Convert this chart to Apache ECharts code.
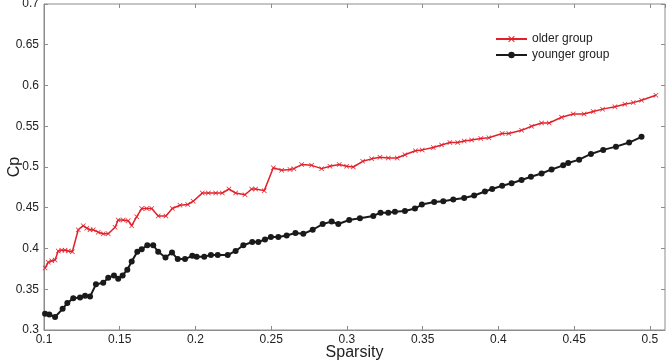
<!DOCTYPE html>
<html>
<head>
<meta charset="utf-8">
<script src="https://cdn.jsdelivr.net/npm/echarts@6/dist/echarts.min.js"></script>
<style>
  html, body { margin: 0; padding: 0; background: #fff; }
  #main { width: 666px; height: 361px; }
</style>
</head>
<body>
<div id="main"></div>
<script>
// sparsity values (x) and Cp values
var olderX = [0.1007, 0.1028, 0.1051, 0.1073, 0.1094, 0.1117, 0.1139, 0.1160, 0.1187, 0.1226,
    0.1259, 0.1282, 0.1304, 0.1325, 0.1358, 0.1391, 0.1424, 0.1469, 0.1490, 0.1523,
    0.1556, 0.1579, 0.1612, 0.1645, 0.1678, 0.1711, 0.1754, 0.1805, 0.1847, 0.1898,
    0.1949, 0.1985, 0.2045, 0.2085, 0.2133, 0.2177, 0.2221, 0.2265, 0.2327, 0.2371,
    0.2397, 0.2454, 0.2514, 0.2569, 0.2624, 0.2650, 0.2701, 0.2767, 0.2833, 0.2888,
    0.2949, 0.2998, 0.3042, 0.3104, 0.3163, 0.3218, 0.3273, 0.3332, 0.3383, 0.3452,
    0.3497, 0.3570, 0.3625, 0.3680, 0.3731, 0.3774, 0.3823, 0.3884, 0.3937, 0.4025,
    0.4069, 0.4153, 0.4219, 0.4285, 0.4335, 0.4417, 0.4494, 0.4566, 0.4626, 0.4688,
    0.4769, 0.4835, 0.4890, 0.4945, 0.5040];
var olderCp = [0.376, 0.383, 0.385, 0.386, 0.397, 0.398, 0.398, 0.397, 0.396, 0.423,
    0.428, 0.425, 0.423, 0.423, 0.420, 0.418, 0.418, 0.426, 0.435, 0.435,
    0.434, 0.428, 0.439, 0.449, 0.449, 0.449, 0.440, 0.440, 0.449, 0.453,
    0.454, 0.458, 0.468, 0.468, 0.468, 0.468, 0.473, 0.468, 0.466, 0.473,
    0.473, 0.471, 0.499, 0.496, 0.497, 0.498, 0.503, 0.502, 0.498, 0.501,
    0.503, 0.501, 0.500, 0.507, 0.510, 0.512, 0.511, 0.511, 0.515, 0.520,
    0.521, 0.524, 0.527, 0.530, 0.530, 0.532, 0.533, 0.535, 0.536, 0.541,
    0.541, 0.545, 0.550, 0.554, 0.554, 0.561, 0.565, 0.565, 0.568, 0.571,
    0.574, 0.577, 0.579, 0.582, 0.588];

var youngerX = [0.1007, 0.1035, 0.1073, 0.1123, 0.1154, 0.1193, 0.1238, 0.1271, 0.1304, 0.1343,
    0.1391, 0.1424, 0.1462, 0.1490, 0.1519, 0.1550, 0.1579, 0.1616, 0.1645, 0.1682,
    0.1721, 0.1754, 0.1802, 0.1845, 0.1883, 0.1931, 0.1979, 0.2008, 0.2058, 0.2102,
    0.2147, 0.2213, 0.2265, 0.2316, 0.2375, 0.2415, 0.2459, 0.2498, 0.2547, 0.2602,
    0.2660, 0.2712, 0.2774, 0.2840, 0.2899, 0.2943, 0.3015, 0.3086, 0.3174, 0.3222,
    0.3273, 0.3317, 0.3383, 0.3449, 0.3495, 0.3576, 0.3636, 0.3702, 0.3774, 0.3840,
    0.3911, 0.3959, 0.4025, 0.4087, 0.4153, 0.4215, 0.4285, 0.4351, 0.4428, 0.4461,
    0.4533, 0.4611, 0.4692, 0.4776, 0.4863, 0.4945];
var youngerCp = [0.320, 0.319, 0.316, 0.326, 0.333, 0.339, 0.340, 0.342, 0.341, 0.356,
    0.358, 0.364, 0.367, 0.363, 0.367, 0.374, 0.384, 0.396, 0.399, 0.404,
    0.404, 0.396, 0.389, 0.395, 0.387, 0.387, 0.391, 0.390, 0.390, 0.392,
    0.392, 0.392, 0.397, 0.404, 0.408, 0.408, 0.411, 0.414, 0.414, 0.416,
    0.419, 0.418, 0.423, 0.430, 0.433, 0.430, 0.435, 0.437, 0.440, 0.444,
    0.444, 0.445, 0.446, 0.449, 0.454, 0.457, 0.458, 0.460, 0.462, 0.465,
    0.470, 0.473, 0.477, 0.480, 0.484, 0.488, 0.492, 0.497, 0.502, 0.505,
    0.509, 0.516, 0.521, 0.525, 0.530, 0.537];

var xTicks = [0.1, 0.15, 0.2, 0.25, 0.3, 0.35, 0.4, 0.45, 0.5];
var yTicks = [0.3, 0.35, 0.4, 0.45, 0.5, 0.55, 0.6, 0.65, 0.7];

function pairs(xs, ys) {
    return xs.map(function (x, i) { return [x, ys[i]]; });
}

var crossPath = 'path://M0,1L1,0L5,4L9,0L10,1L6,5L10,9L9,10L5,6L1,10L0,9L4,5Z';
var axisGray = '#8c8c8c';
var font = 'Liberation Sans, Arial, sans-serif';

var chart = echarts.init(document.getElementById('main'));

var option = {
    animation: false,
    textStyle: { fontFamily: font },
    grid: {
        left: 44, right: 1, top: 4, bottom: 31,
        outerBoundsMode: 'none',
        containLabel: false,
        show: true, borderColor: axisGray, borderWidth: 1
    },
    legend: {
        orient: 'vertical',
        left: 490, top: 28,
        itemWidth: 31, itemHeight: 8, itemGap: 4,
        textStyle: { fontSize: 12, color: '#222', fontFamily: font },
        data: ['older group', 'younger group']
    },
    xAxis: [{
        type: 'value',
        min: xTicks[0], max: 0.51, interval: 0.05,
        name: 'Sparsity', nameLocation: 'middle', nameGap: 15,
        nameMoveOverlap: false,
        nameTextStyle: { fontSize: 16, color: '#222' },
        axisLine: { lineStyle: { color: axisGray } },
        axisTick: { inside: true, length: 4, lineStyle: { color: axisGray } },
        axisLabel: { fontSize: 12, color: '#222', margin: 4, showMaxLabel: false },
        splitLine: { show: false }
    }, {
        type: 'value', position: 'top',
        min: xTicks[0], max: 0.51, interval: 0.05,
        axisLine: { show: false },
        axisTick: { inside: true, length: 4, lineStyle: { color: axisGray } },
        axisLabel: { show: false },
        splitLine: { show: false }
    }],
    yAxis: [{
        type: 'value',
        min: yTicks[0], max: yTicks[yTicks.length - 1], interval: 0.05,
        name: 'Cp', nameLocation: 'middle', nameGap: 21, nameRotate: 90,
        nameMoveOverlap: false,
        nameTextStyle: { fontSize: 16, color: '#222' },
        axisLine: { show: true, lineStyle: { color: axisGray } },
        axisTick: { show: true, inside: true, length: 4, lineStyle: { color: axisGray } },
        axisLabel: { fontSize: 12, color: '#222', margin: 5 },
        splitLine: { show: false }
    }, {
        type: 'value', position: 'right',
        min: yTicks[0], max: yTicks[yTicks.length - 1], interval: 0.05,
        axisLine: { show: false },
        axisTick: { show: true, inside: true, length: 4, lineStyle: { color: axisGray } },
        axisLabel: { show: false },
        splitLine: { show: false }
    }],
    series: [{
        name: 'older group',
        type: 'line',
        data: pairs(olderX, olderCp),
        symbol: crossPath,
        symbolSize: 5,
        showAllSymbol: true,
        color: '#e3202a',
        lineStyle: { width: 1.5, color: '#e3202a' },
        itemStyle: { color: '#e3202a' }
    }, {
        name: 'younger group',
        type: 'line',
        data: pairs(youngerX, youngerCp),
        symbol: 'circle',
        symbolSize: 6,
        showAllSymbol: true,
        color: '#1a1a1a',
        lineStyle: { width: 2, color: '#1a1a1a' },
        itemStyle: { color: '#1a1a1a' }
    }]
};

chart.setOption(option);
</script>
</body>
</html>
